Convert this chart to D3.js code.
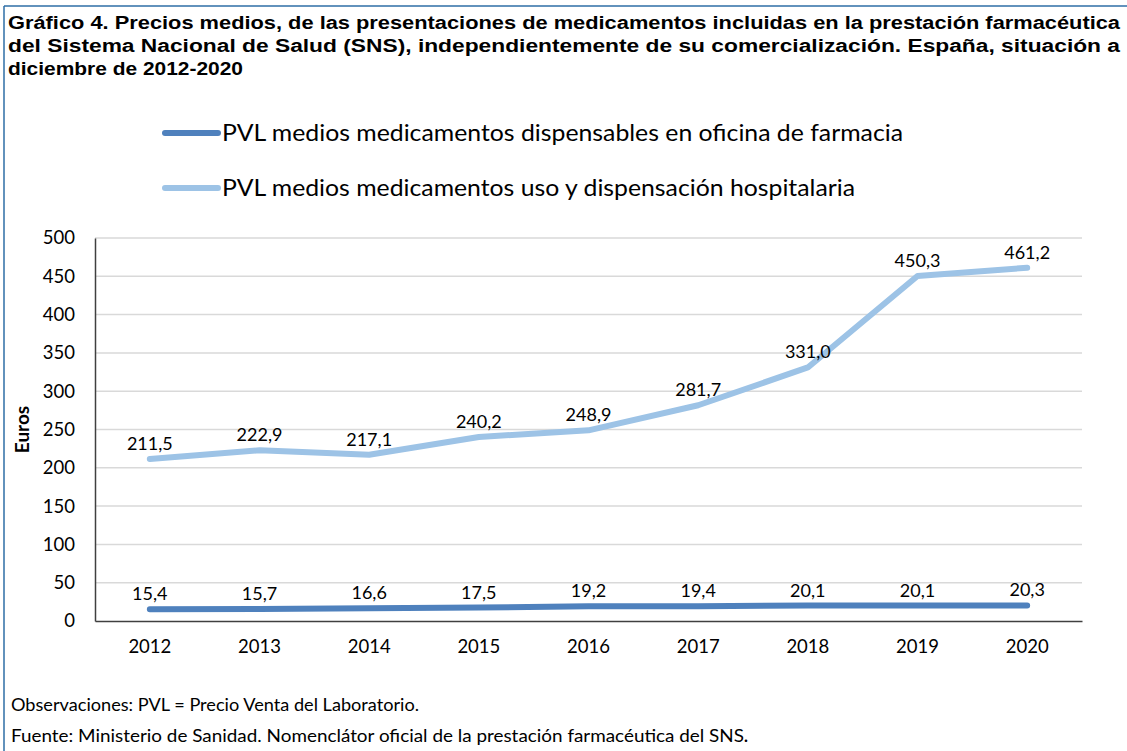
<!DOCTYPE html>
<html>
<head>
<meta charset="utf-8">
<script src="https://cdn.jsdelivr.net/npm/d3@7"></script>
<style>
  body { margin: 0; background: #fff; }
</style>
</head>
<body>
<div id="wrap"></div>
<script>
const years = ["2012", "2013", "2014", "2015", "2016", "2017", "2018", "2019", "2020"];
const farmacia = [15.4, 15.7, 16.6, 17.5, 19.2, 19.4, 20.1, 20.1, 20.3];
const hospital = [211.5, 222.9, 217.1, 240.2, 248.9, 281.7, 331.0, 450.3, 461.2];
const seriesNames = ["PVL medios medicamentos dispensables en oficina de farmacia",
                     "PVL medios medicamentos uso y dispensación hospitalaria"];
const seriesColors = ["#4f81bd", "#9dc3e6"];
const yTicks = [0, 50, 100, 150, 200, 250, 300, 350, 400, 450, 500];
const titleLines = ["Gráfico 4. Precios medios, de las presentaciones de medicamentos incluidas en la prestación farmacéutica",
                    "del Sistema Nacional de Salud (SNS), independientemente de su comercialización. España, situación a",
                    "diciembre de 2012-2020"];

const width = 1127, height = 751;
const margin = {top: 238, right: 45, bottom: 130, left: 95};
const font = "Lato, 'Open Sans', sans-serif";

let svg = d3.select("#wrap").append("svg")
    .attr("width", width)
    .attr("height", height);

// frame lines
svg.append("line").attr("x1", 4).attr("x2", width).attr("y1", 6).attr("y2", 6)
    .attr("stroke", "#2e6ea6").attr("stroke-width", 1.5);
svg.append("line").attr("x1", 4).attr("x2", 4).attr("y1", 6).attr("y2", height)
    .attr("stroke", "#2e6ea6").attr("stroke-width", 1.5);

// title (stretched like the original)
let titleWidths = [1112, 1112, 235];
svg.append("g")
    .selectAll("text")
    .data(titleLines)
    .join("text")
    .attr("x", 8)
    .attr("y", (d, i) => 29 + i * 23)
    .attr("textLength", (d, i) => titleWidths[i])
    .attr("lengthAdjust", "spacingAndGlyphs")
    .attr("font-family", "'Liberation Sans', Arial, sans-serif")
    .attr("font-weight", "bold")
    .attr("font-size", 17.5)
    .text(d => d);

let x = d3.scaleBand()
    .domain(years)
    .range([margin.left, width - margin.right]);

let y = d3.scaleLinear()
    .domain([0, 500])
    .range([height - margin.bottom, margin.top]);

// grid
svg.append("g")
    .selectAll("line")
    .data(yTicks.slice(1))
    .join("line")
    .attr("x1", margin.left)
    .attr("x2", width - margin.right)
    .attr("y1", d => y(d))
    .attr("y2", d => y(d))
    .attr("stroke", "#d9d9d9")
    .attr("stroke-width", 1.5);

// y axis
let yAxis = svg.append("g")
    .attr("transform", `translate(${margin.left},0)`)
    .call(d3.axisLeft(y).tickValues(yTicks).tickSize(0).tickPadding(20));
yAxis.select(".domain").attr("stroke", "#404040").attr("stroke-width", 1.5);
yAxis.selectAll("text").attr("font-family", font).attr("font-size", 18.5).attr("fill", "#000");

// x axis
let xAxis = svg.append("g")
    .attr("transform", `translate(0,${y(0)})`)
    .call(d3.axisBottom(x).tickSize(0).tickPadding(19));
xAxis.select(".domain").attr("stroke", "#404040").attr("stroke-width", 1.5);
xAxis.selectAll("text").attr("font-family", font).attr("font-size", 18.5).attr("fill", "#000");

svg.append("text")
    .attr("transform", `translate(29, ${(y(0) + y(500)) / 2}) rotate(-90)`)
    .attr("text-anchor", "middle")
    .attr("font-family", font)
    .attr("font-weight", "bold")
    .attr("font-size", 19)
    .text("Euros");

let line = d3.line()
    .x((d, i) => x(years[i]) + x.bandwidth() / 2)
    .y(d => y(d));

let fmt = v => d3.format(".1f")(v).replace(".", ",");

[farmacia, hospital].forEach((vals, k) => {
    svg.append("path")
        .datum(vals)
        .attr("d", line)
        .attr("fill", "none")
        .attr("stroke", seriesColors[k])
        .attr("stroke-width", 6)
        .attr("stroke-linecap", "round")
        .attr("stroke-linejoin", "round");

    svg.append("g")
        .selectAll("text")
        .data(vals)
        .join("text")
        .attr("x", (d, i) => x(years[i]) + x.bandwidth() / 2)
        .attr("y", d => y(d) - 9)
        .attr("text-anchor", "middle")
        .attr("font-family", font)
        .attr("font-size", 18)
        .attr("fill", "#000")
        .text(fmt);
});

// legend
let legendWidths = [681, 633];
let legend = svg.append("g")
    .selectAll("g")
    .data(seriesNames)
    .join("g")
    .attr("transform", (d, i) => `translate(163, ${133 + i * 55})`);

legend.append("line")
    .attr("x1", 2).attr("x2", 55)
    .attr("stroke", (d, i) => seriesColors[i])
    .attr("stroke-width", 6)
    .attr("stroke-linecap", "round");

legend.append("text")
    .attr("x", 59)
    .attr("dy", "0.35em")
    .attr("textLength", (d, i) => legendWidths[i])
    .attr("lengthAdjust", "spacingAndGlyphs")
    .attr("font-family", font)
    .attr("font-size", 23)
    .attr("fill", "#000")
    .text(d => d);

// notes
svg.append("text")
    .attr("x", 11).attr("y", 711)
    .attr("textLength", 408)
    .attr("lengthAdjust", "spacingAndGlyphs")
    .attr("font-family", font)
    .attr("font-size", 16.5)
    .text("Observaciones: PVL = Precio Venta del Laboratorio.");

let src = svg.append("text")
    .attr("x", 11).attr("y", 742)
    .attr("font-family", font)
    .attr("font-size", 16.5);
src.append("tspan")
    .attr("textLength", 733)
    .attr("lengthAdjust", "spacingAndGlyphs")
    .text("Fuente: Ministerio de Sanidad. Nomenclátor oficial de la prestación farmacéutica del SNS");
src.append("tspan").attr("font-weight", "bold").text(".");
</script>
</body>
</html>
